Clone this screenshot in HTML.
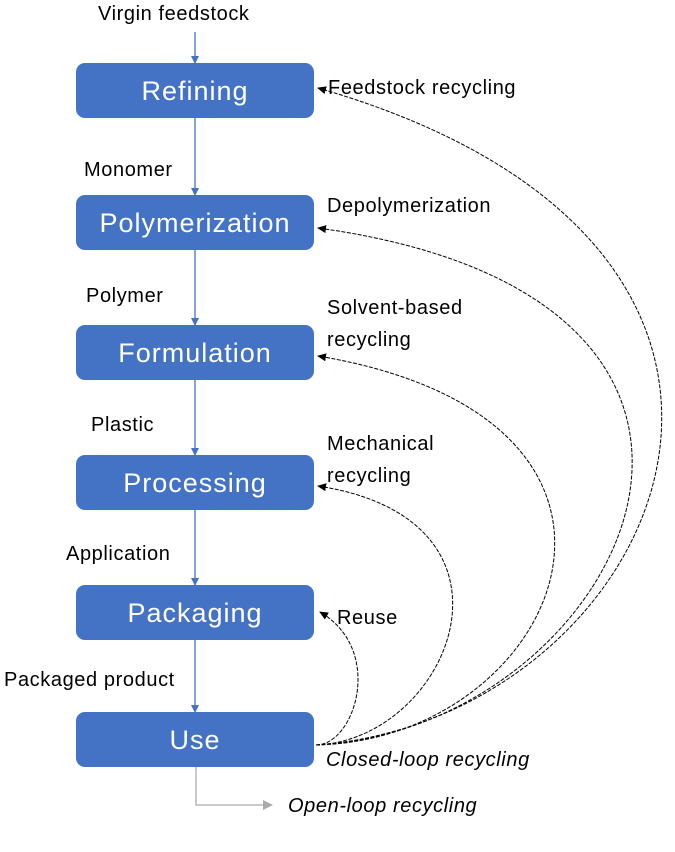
<!DOCTYPE html>
<html><head><style>
body{margin:0;background:#fff;}
svg{display:block}
text{font-family:"Liberation Sans",sans-serif;}
</style></head><body>
<svg width="675" height="852" viewBox="0 0 675 852" xmlns="http://www.w3.org/2000/svg">
<defs>
<marker id="b" markerWidth="8" markerHeight="8" refX="7" refY="4" orient="auto" markerUnits="userSpaceOnUse"><path d="M0,0 L8,4 L0,8z" fill="#4472c4"/></marker>
<marker id="k" markerWidth="9" markerHeight="8" refX="8" refY="4" orient="auto" markerUnits="userSpaceOnUse"><path d="M0,0 L9,4 L0,8z" fill="#000"/></marker>
<marker id="g" markerWidth="10" markerHeight="10" refX="9" refY="5" orient="auto" markerUnits="userSpaceOnUse"><path d="M0,0 L10,5 L0,10z" fill="#aaa"/></marker>
</defs>
<g stroke="#4472c4" stroke-width="1.3" marker-end="url(#b)">
<line x1="195" y1="32" x2="195" y2="63"/>
<line x1="195" y1="118" x2="195" y2="195"/>
<line x1="195" y1="250" x2="195" y2="325"/>
<line x1="195" y1="380" x2="195" y2="455"/>
<line x1="195" y1="510" x2="195" y2="585"/>
<line x1="195" y1="640" x2="195" y2="712"/>
</g>
<g fill="#4472c4">
<rect x="76" y="63" width="238" height="55" rx="9"/>
<rect x="76" y="195" width="238" height="55" rx="9"/>
<rect x="76" y="325" width="238" height="55" rx="9"/>
<rect x="76" y="455" width="238" height="55" rx="9"/>
<rect x="76" y="585" width="238" height="55" rx="9"/>
<rect x="76" y="712" width="238" height="55" rx="9"/>
</g>
<g fill="#fff" font-size="27" text-anchor="middle" letter-spacing="1">
<text x="195" y="100">Refining</text>
<text x="195" y="232">Polymerization</text>
<text x="195" y="362">Formulation</text>
<text x="195" y="492">Processing</text>
<text x="195" y="622">Packaging</text>
<text x="195" y="749">Use</text>
</g>
<g font-size="20" fill="#000" letter-spacing="0.6">
<text x="98" y="20">Virgin feedstock</text>
<text x="84" y="176">Monomer</text>
<text x="86" y="302">Polymer</text>
<text x="91" y="431">Plastic</text>
<text x="66" y="560">Application</text>
<text x="4" y="686">Packaged product</text>
<text x="328" y="94">Feedstock recycling</text>
<text x="327" y="212">Depolymerization</text>
<text x="327" y="314">Solvent-based</text>
<text x="327" y="346">recycling</text>
<text x="327" y="450">Mechanical</text>
<text x="327" y="482">recycling</text>
<text x="337" y="624">Reuse</text>
<text x="326" y="766" font-style="italic">Closed-loop recycling</text>
<text x="288" y="812" font-style="italic">Open-loop recycling</text>
</g>
<g fill="none" stroke="#000" stroke-width="1" stroke-dasharray="4,1.5" marker-end="url(#k)">
<path d="M316,745 C660,720 880,250 318,88"/>
<path d="M316,745 C620,730 840,300 318,228"/>
<path d="M316,745 C560,740 700,420 318,356"/>
<path d="M316,745 C450,740 540,520 318,486"/>
<path d="M316,745 C355,745 385,650 320,612"/>
</g>
<polyline points="196,767 196,805 272,805" fill="none" stroke="#aaa" stroke-width="1.3" marker-end="url(#g)"/>
</svg>
</body></html>
